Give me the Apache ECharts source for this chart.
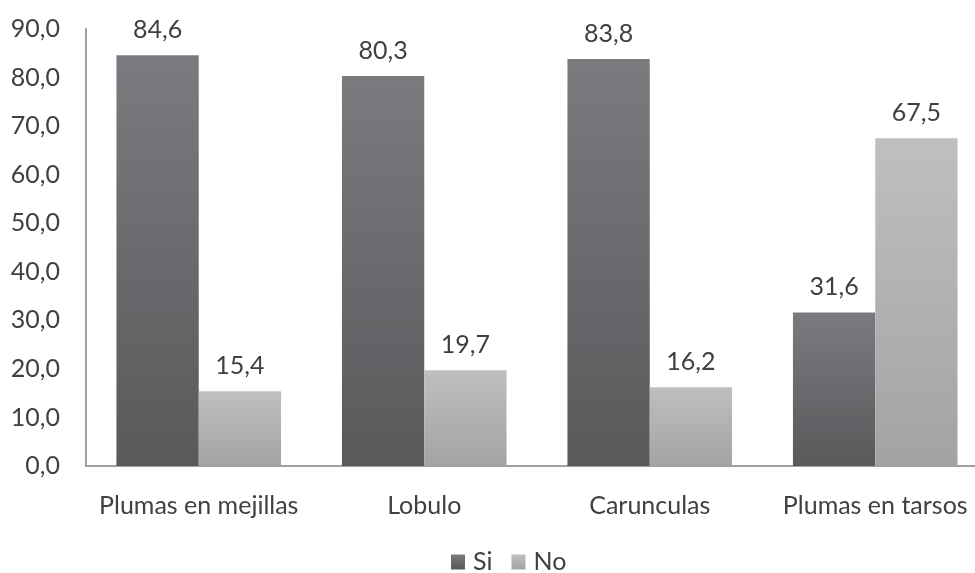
<!DOCTYPE html>
<html><head><meta charset="utf-8">
<script src="https://cdn.jsdelivr.net/npm/echarts@6/dist/echarts.min.js"></script>
<style>html,body{margin:0;padding:0;background:#fff}#c{width:975px;height:573px}</style>
</head><body><div id="c"></div>
<script>
const categories = ['Plumas en mejillas', 'Lobulo', 'Carunculas', 'Plumas en tarsos'];
const siValues = [84.6, 80.3, 83.8, 31.6];
const noValues = [15.4, 19.7, 16.2, 67.5];
const seriesNames = ['Si', 'No'];

const fmt = v => (typeof v === 'number' ? v : v.value).toFixed(1).replace('.', ',');
const FONT = 'Lato, "Open Sans", sans-serif';
const FS = 25;
const grad = (a, b) => new echarts.graphic.LinearGradient(0, 0, 0, 1, [{offset: 0, color: a}, {offset: 1, color: b}]);

const chart = echarts.init(document.getElementById('c'));
chart.setOption({
  animation: false,
  textStyle: {fontFamily: FONT},
  grid: {left: 86, width: 902, top: 29, height: 437, containLabel: false, outerBoundsMode: 'none'},
  legend: {
    top: 549, left: 451, padding: 0, itemWidth: 14, itemHeight: 15, itemGap: 19,
    icon: 'rect',
    textStyle: {fontSize: FS, color: '#404040', fontFamily: FONT, lineHeight: 26, padding: [0, 0, 0, 3]},
    data: seriesNames
  },
  xAxis: {
    type: 'category', data: categories,
    axisLine: {lineStyle: {color: '#a0a0a0', width: 2}},
    axisTick: {show: false},
    axisLabel: {fontSize: FS, color: '#404040', margin: 27, fontFamily: FONT, interval: 0}
  },
  yAxis: {
    type: 'value', min: 0, max: 90, interval: 10,
    axisLine: {show: true, lineStyle: {color: '#a0a0a0', width: 2}},
    axisTick: {show: false},
    splitLine: {show: false},
    axisLabel: {fontSize: FS, color: '#404040', margin: 26, fontFamily: FONT, formatter: v => fmt(v)}
  },
  series: [
    {
      name: seriesNames[0], type: 'bar', data: siValues,
      barGap: '0%', barCategoryGap: '27%',
      itemStyle: {color: grad('#7a7b7e', '#58595b')},
      label: {show: true, position: 'top', distance: 13, fontSize: FS, color: '#404040', fontFamily: FONT, formatter: p => fmt(p.value)}
    },
    {
      name: seriesNames[1], type: 'bar', data: noValues,
      barGap: '0%', barCategoryGap: '27%',
      itemStyle: {color: grad('#bebfc1', '#a2a3a5')},
      label: {show: true, position: 'top', distance: 13, fontSize: FS, color: '#404040', fontFamily: FONT, formatter: p => fmt(p.value)}
    }
  ]
});
</script></body></html>
